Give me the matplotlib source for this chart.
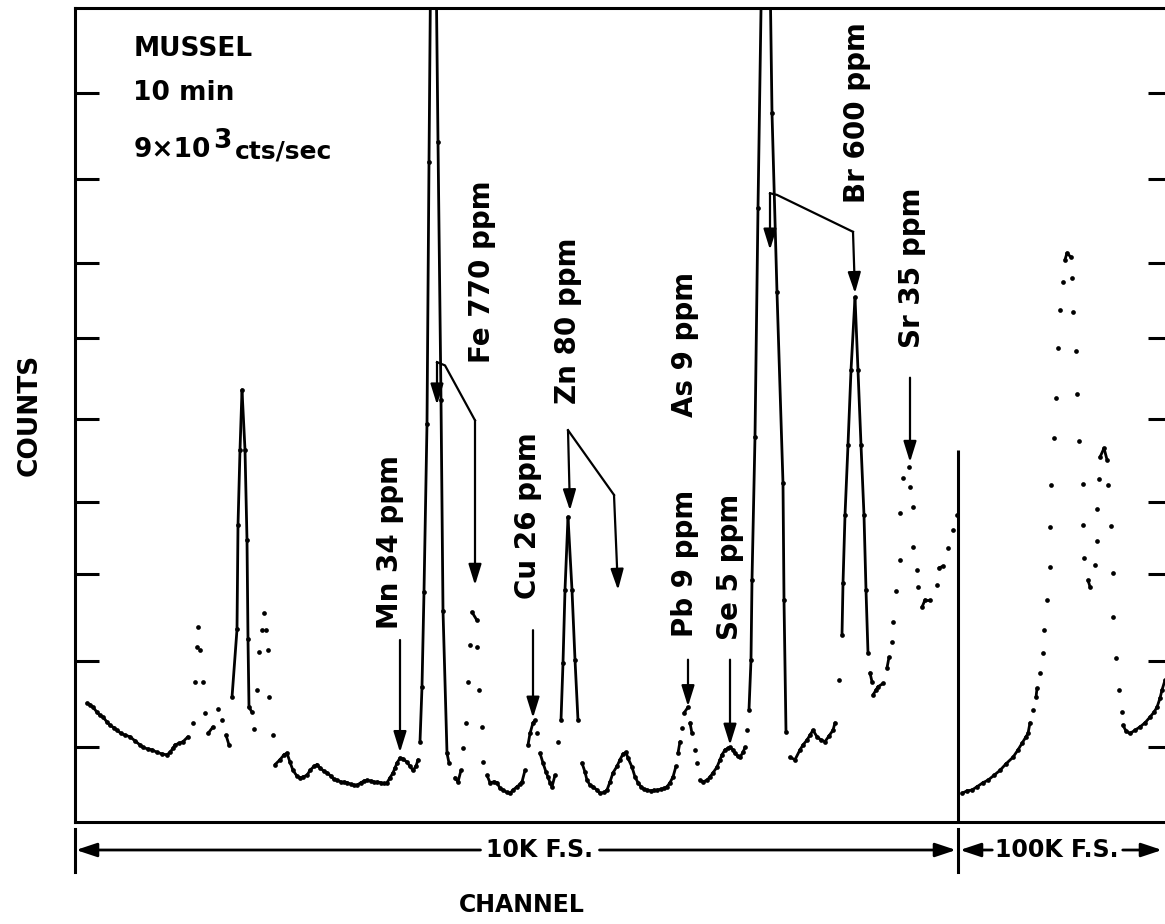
import numpy as np
import matplotlib
matplotlib.use("Agg")
import matplotlib.pyplot as plt
import matplotlib.transforms as mtransforms
from matplotlib.collections import LineCollection

# ---------------------------------------------------------------------------
# Spectrum (channel, counts in arbitrary units, tick = 100)
# ---------------------------------------------------------------------------
CH_10K = [12, 15, 18, 22, 25, 28, 32, 35, 39, 42, 46, 50, 55, 60, 65, 68, 73, 77,
          82, 87, 92, 95, 98, 100, 104, 108, 113, 118, 120, 122, 123, 125, 128,
          130, 133, 138, 143, 147, 151, 154, 157, 162, 163, 165, 167, 170, 172,
          173, 174, 177, 179, 182, 184, 187, 189, 191, 193, 194, 198,
          200, 205, 209, 212, 215, 218, 222, 225, 228, 232, 235, 239, 242, 245,
          249, 252, 256, 259, 262, 266, 269, 272, 276, 279, 282, 286, 289, 292,
          296, 299, 302, 306, 309, 312, 315, 318, 320, 322, 325, 328, 332, 335,
          338, 341, 343, 345, 347, 349, 352, 354, 358, 363, 366, 368, 372, 374,
          380, 383, 386, 388, 391, 393, 395, 397, 402, 402, 404, 407, 408, 412,
          415, 419, 422, 425, 428, 432, 435, 438, 442, 445, 447, 450, 453, 455,
          458, 460, 462, 465, 468, 471, 473, 475, 477, 480, 483, 486, 488, 490,
          493, 497, 500, 503, 507, 510, 512, 515, 518, 522, 525, 529, 532, 535,
          538, 542, 545, 548, 551, 553, 557, 560, 563, 566, 569, 572, 576, 579,
          582, 586, 589, 592, 595, 598, 601, 603, 605, 607, 609, 613, 615, 617,
          620, 622, 625, 628, 632, 635, 638, 642, 645, 647, 650, 653, 655, 658,
          660, 663, 665, 668, 670, 672, 674, 676, 677, 680, 683, 691, 697, 702,
          708, 709, 711, 715, 720, 725, 728, 732, 735, 738, 742, 746, 750,
          754, 758, 760, 764, 767, 768, 770, 773, 776, 780, 783, 786, 789, 791,
          793, 795, 797, 798, 801, 803, 808, 812, 814, 817, 818, 821, 825, 825,
          828, 834, 835, 838, 838, 842, 843, 847, 850, 855, 862, 864, 868, 873,
          878, 882]
CNT_10K = [152, 150, 147, 141, 137, 135, 129, 125, 122, 119, 115, 113, 111, 106,
           101, 98, 96, 95, 92, 90, 89, 92, 97, 101, 103, 105, 111, 128, 178, 220,
           245, 217, 178, 140, 115, 123, 145, 131, 113, 101, 159, 242, 369, 461,
           534, 461, 351, 230, 147, 141, 120, 168, 214, 241, 262, 241, 217, 159,
           113,
           77, 83, 89, 91, 80, 70, 63, 61, 62, 64, 70, 75, 77, 73,
           69, 67, 63, 59, 58, 56, 56, 55, 53, 52, 52, 55, 57, 58,
           57, 56, 56, 55, 55, 55, 61, 67, 73, 79, 85, 84, 80, 75,
           70, 75, 83, 105, 172, 288, 493, 812, 1400, 837, 522, 265, 91, 79,
           61, 56, 70, 97, 128, 178, 223, 263, 253, 220, 168, 123, 80, 64,
           55, 56, 55, 48, 46, 43, 42, 46, 50, 53, 56, 70, 101, 115,
           128, 131, 115, 91, 79, 68, 62, 55, 50, 64, 105, 131, 201, 290,
           379, 290, 205, 131, 79, 68, 58, 52, 50, 46, 42, 43, 46, 56,
           67, 75, 83, 90, 92, 85, 74, 62, 55, 50, 47, 46, 45, 46,
           46, 47, 48, 50, 55, 62, 75, 91, 105, 122, 140, 147, 128, 115,
           95, 79, 58, 56, 58, 62, 67, 74, 83, 89, 95, 97, 98, 95,
           91, 87, 86, 92, 98, 119, 144, 205, 302, 477, 756, 1400, 872, 653,
           420, 278, 117, 86, 83, 95, 101, 107, 113, 119, 111, 107, 105,
           112, 119, 128, 180, 235, 298, 381, 467, 558, 647, 558, 467, 381, 290,
           213, 189, 178, 162, 168, 172, 176, 195, 208, 227, 251, 289, 327, 384,
           427, 440, 416, 391, 342, 314, 294, 269, 278, 278, 296, 317, 319, 341,
           363, 381]

CH_100K = [887, 892, 897, 902, 908, 913, 919, 925, 931, 938, 943, 947, 951, 953,
           955, 958, 961, 962, 965, 968, 969, 972, 975, 975, 976, 979, 981, 983,
           985, 988, 990, 992, 996, 997, 998, 1001, 1002, 1004, 1008, 1008, 1009,
           1013, 1015, 1020, 1022, 1022, 1024, 1025, 1029, 1032, 1033, 1036,
           1038, 1038, 1041, 1044, 1047, 1048, 1051, 1055, 1060, 1065, 1070,
           1075, 1079, 1082, 1085, 1087, 1090]
CNT_100K = [42, 45, 46, 50, 55, 58, 64, 70, 78, 86, 95, 103, 111, 115,
            128, 144, 159, 170, 189, 213, 241, 278, 318, 367, 418, 475, 524, 585,
            632, 666, 693, 701, 696, 671, 629, 582, 529, 472, 419, 369, 329,
            302, 294, 320, 350, 389, 425, 452, 463, 449, 418, 368,
            311, 257, 207, 168, 141, 125, 118, 115, 119, 123, 128,
            135, 141, 147, 158, 168, 180]

COUNT_TICKS = [98, 203, 309, 397, 499, 597, 689, 791, 896]
DIVIDER_CH = 883
DIVIDER_TOP = 461

PEAK_LABELS = ["Mn 34 ppm", "Fe 770 ppm", "Cu 26 ppm", "Zn 80 ppm", "As 9 ppm",
               "Pb 9 ppm", "Se 5 ppm", "Br 600 ppm", "Sr 35 ppm"]
LABEL_CH = [315, 407, 453, 493, 610, 610, 655, 782, 837]
LABEL_CNT = [348, 678, 381, 619, 589, 323, 318, 873, 683]

# simple straight arrows: (start) -> (tip)
ARROWS = [((325, 229), (325, 92)),     # Mn
          ((458, 241), (458, 134)),    # Cu
          ((613, 205), (613, 148)),    # Pb
          ((655, 205), (655, 101)),    # Se
          ((835, 549), (835, 446))]    # Sr

# ---------------------------------------------------------------------------
fig = plt.figure(figsize=(11.65, 9.24), dpi=100)
ax = fig.add_axes([75 / 1165, 1 - 822 / 924, 1097 / 1165, 814 / 924])
ax.set_xlim(0, 1097)
ax.set_ylim(7, 1000)

for side in ("left", "top", "bottom", "right"):
    ax.spines[side].set_linewidth(2.2)
ax.set_xticks([])
ax.set_yticks(COUNT_TICKS)
ax.tick_params(axis="y", direction="in", length=17, width=2.2,
               left=True, right=True, labelleft=False)

fig.canvas.draw()
to_px = ax.transData.transform


def pen_segments(ch, cnt, jump=48, near=12, use_jump=True):
    # plotter pen stays down on steep flanks and between close neighbours
    pts = np.column_stack([ch, cnt]).astype(float)
    pix = to_px(pts)
    d = np.diff(pix, axis=0)
    dist = np.hypot(d[:, 0], d[:, 1])
    pen = dist < near
    if use_jump:
        pen |= np.abs(d[:, 1]) >= jump
    return [pts[i:i + 2] for i in np.where(pen)[0]]


segs = pen_segments(CH_10K, CNT_10K) + pen_segments(CH_100K, CNT_100K, use_jump=False)
ax.add_collection(LineCollection(segs, colors="black", linewidths=2.0,
                                 capstyle="round"))
ax.plot(CH_10K, CNT_10K, "o", ms=3.4, mew=0, color="black")
ax.plot(CH_100K, CNT_100K, "o", ms=3.4, mew=0, color="black")

ax.vlines(DIVIDER_CH, 7, DIVIDER_TOP, color="black", lw=2.2)

# peak labels
for lab, x, y in zip(PEAK_LABELS, LABEL_CH, LABEL_CNT):
    ax.text(x, y, lab, rotation=90, ha="center", va="center",
            fontsize=20, fontweight="bold")

ARW = dict(arrowstyle="-|>,head_length=0.9,head_width=0.28", color="black",
           lw=1.6, shrinkA=0, shrinkB=0, mutation_scale=14)


def arrow(start, tip):
    ax.annotate("", xy=tip, xytext=start, arrowprops=ARW)


for s, t in ARROWS:
    arrow(s, t)

# Fe: bracket to K-alpha and K-beta
ax.plot([362, 370, 400], [568, 564, 497], color="black", lw=1.6)
arrow((362, 568), (362, 516))
arrow((400, 497), (400, 296))
# Zn
ax.plot([493, 539], [485, 406], color="black", lw=1.6)
arrow((493, 485), (495, 387))
arrow((539, 406), (543, 290))
# Br
ax.plot([695, 702, 778], [774, 772, 727], color="black", lw=1.6)
arrow((695, 774), (695, 705))
arrow((778, 727), (780, 652))

# sample info
ax.text(0.053, 0.950, "MUSSEL", transform=ax.transAxes, ha="left", va="center",
        fontsize=19, fontweight="bold")
ax.text(0.053, 0.895, "10 min", transform=ax.transAxes, ha="left", va="center",
        fontsize=19, fontweight="bold")
t1 = ax.text(0.053, 0.826, "9×10", transform=ax.transAxes, ha="left",
             va="center", fontsize=19, fontweight="bold")
t3 = ax.annotate("3", xy=(1, 0.5), xycoords=t1, xytext=(2, 6),
                 textcoords="offset points", ha="left", va="center",
                 fontsize=19, fontweight="bold")
ax.annotate("cts/sec", xy=(1, 0.5), xycoords=(t3, t1), xytext=(2, -1),
            textcoords="offset points", ha="left", va="center",
            fontsize=18, fontweight="bold")

# axis titles
fig.text(30 / 1165, 1 - 415 / 924, "COUNTS", rotation=90, ha="center",
         va="center", fontsize=19, fontweight="bold")
fig.text(522 / 1165, 1 - 905 / 924, "CHANNEL", ha="center", va="center",
         fontsize=17, fontweight="bold")

# full-scale brackets under the axis
blend = mtransforms.blended_transform_factory(ax.transData, ax.transAxes)
yb = -0.0344
for xb in (0, DIVIDER_CH):
    ax.plot([xb, xb], [-0.008, -0.062], transform=blend, color="black",
            lw=2.2, clip_on=False)
fs1 = ax.text(465, yb, "10K F.S.", transform=blend, ha="center", va="center",
              fontsize=17, fontweight="bold")
fs2 = ax.text(982, yb, "100K F.S.", transform=blend, ha="center", va="center",
              fontsize=17, fontweight="bold")
fig.canvas.draw()
rend = fig.canvas.get_renderer()
inv = ax.transData.inverted()


def xspan(t):
    bb = t.get_window_extent(rend)
    return inv.transform((bb.x0, 0))[0], inv.transform((bb.x1, 0))[0]


BRK = dict(arrowstyle="-|>,head_length=0.9,head_width=0.3", color="black",
           lw=2.0, shrinkA=0, shrinkB=0, mutation_scale=14)
a0, a1 = xspan(fs1)
ax.annotate("", xy=(1, yb), xytext=(a0 - 6, yb), xycoords=blend,
            textcoords=blend, arrowprops=BRK, annotation_clip=False)
ax.annotate("", xy=(DIVIDER_CH - 2, yb), xytext=(a1 + 6, yb), xycoords=blend,
            textcoords=blend, arrowprops=BRK, annotation_clip=False)
b0, b1 = xspan(fs2)
ax.annotate("", xy=(DIVIDER_CH + 2, yb), xytext=(b0 - 3, yb), xycoords=blend,
            textcoords=blend, arrowprops=BRK, annotation_clip=False)
ax.annotate("", xy=(1087, yb), xytext=(b1 + 4, yb), xycoords=blend,
            textcoords=blend, arrowprops=BRK, annotation_clip=False)

fig.savefig("out.png", dpi=100)
